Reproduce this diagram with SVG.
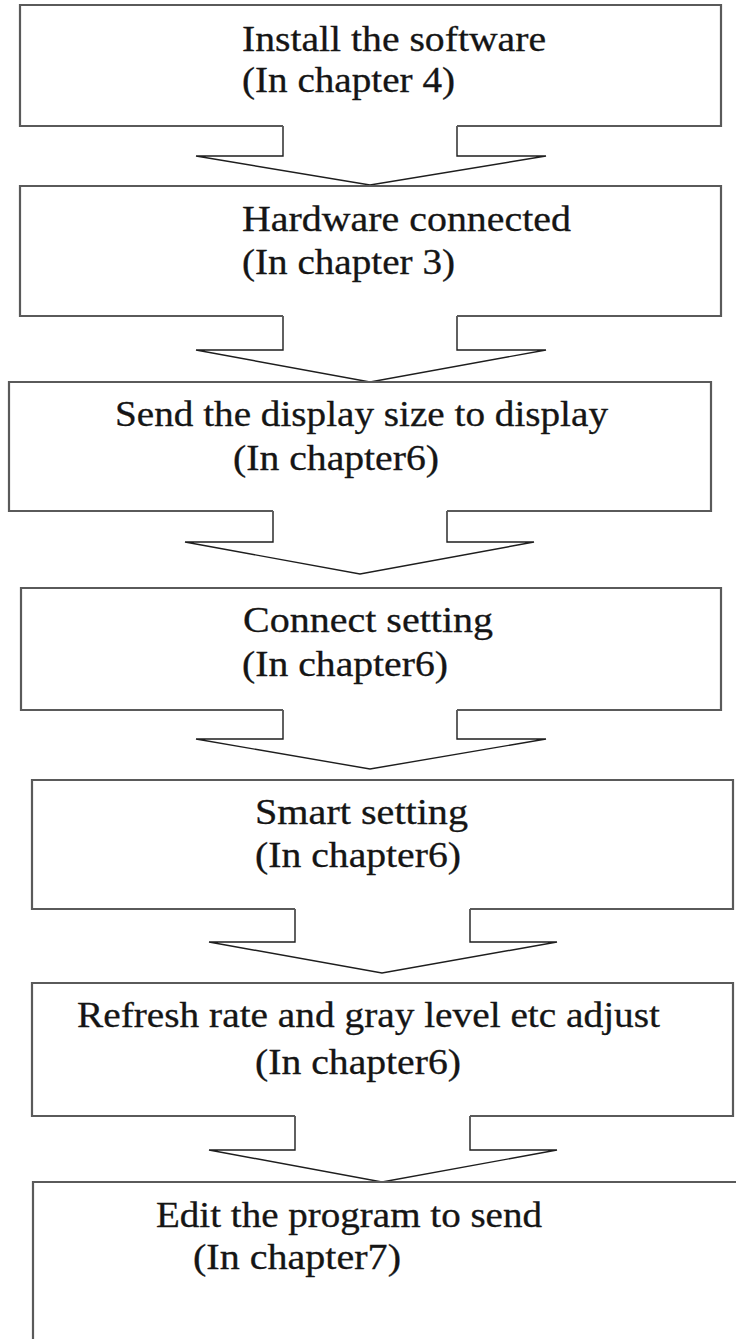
<svg xmlns="http://www.w3.org/2000/svg" width="736" height="1339" viewBox="0 0 736 1339">
<style>
.box{fill:none;stroke:#5a5a5a;stroke-width:2.2}
.arr{fill:none;stroke:#1e1e1e;stroke-width:1.4;stroke-linejoin:miter}
text{font-family:"Liberation Serif","Times New Roman",serif;font-size:35px;fill:#151515;stroke:#151515;stroke-width:0.3}
</style>
<rect width="736" height="1339" fill="#fff"/>
<g id="connectors">
<polyline class="arr" points="283,126 283,156 196,156 370,185 546,156 457,156 457,126"/>
<polyline class="arr" points="283,316 283,350 196,350 370,382 546,350 457,350 457,316"/>
<polyline class="arr" points="273,511 273,542 185,542 360,574 534,542 447,542 447,511"/>
<polyline class="arr" points="283,710 283,739 196,739 370,769 546,739 457,739 457,710"/>
<polyline class="arr" points="295,909 295,942 209,942 382,973 557,942 470,942 470,909"/>
<polyline class="arr" points="295,1116 295,1150 209,1150 382,1182 557,1150 470,1150 470,1116"/>
</g>
<g id="n1">
<path class="box" d="M283,126 H20 V5 H721 V126 H457"/>
<text x="242" y="51" textLength="304" lengthAdjust="spacingAndGlyphs">Install the software</text>
<text x="242" y="92" textLength="213" lengthAdjust="spacingAndGlyphs">(In chapter 4)</text>
</g>
<g id="n2">
<path class="box" d="M283,316 H20 V186 H721 V316 H457"/>
<text x="242" y="231" textLength="329" lengthAdjust="spacingAndGlyphs">Hardware connected</text>
<text x="242" y="274" textLength="213" lengthAdjust="spacingAndGlyphs">(In chapter 3)</text>
</g>
<g id="n3">
<path class="box" d="M273,511 H9 V382 H711 V511 H447"/>
<text x="115" y="426" textLength="493" lengthAdjust="spacingAndGlyphs">Send the display size to display</text>
<text x="233" y="470" textLength="206" lengthAdjust="spacingAndGlyphs">(In chapter6)</text>
</g>
<g id="n4">
<path class="box" d="M283,710 H21 V588 H721 V710 H457"/>
<text x="243" y="632" textLength="250" lengthAdjust="spacingAndGlyphs">Connect setting</text>
<text x="242" y="676" textLength="206" lengthAdjust="spacingAndGlyphs">(In chapter6)</text>
</g>
<g id="n5">
<path class="box" d="M295,909 H32 V780 H733 V909 H470"/>
<text x="255" y="824" textLength="213" lengthAdjust="spacingAndGlyphs">Smart setting</text>
<text x="255" y="867" textLength="206" lengthAdjust="spacingAndGlyphs">(In chapter6)</text>
</g>
<g id="n6">
<path class="box" d="M295,1116 H32 V983 H733 V1116 H470"/>
<text x="77" y="1027" textLength="583" lengthAdjust="spacingAndGlyphs">Refresh rate and gray level etc adjust</text>
<text x="255" y="1074" textLength="206" lengthAdjust="spacingAndGlyphs">(In chapter6)</text>
</g>
<g id="n7">
<path class="box" d="M33,1339 V1182 H736"/>
<text x="156" y="1227" textLength="386" lengthAdjust="spacingAndGlyphs">Edit the program to send</text>
<text x="193" y="1269" textLength="208" lengthAdjust="spacingAndGlyphs">(In chapter7)</text>
</g>
</svg>
